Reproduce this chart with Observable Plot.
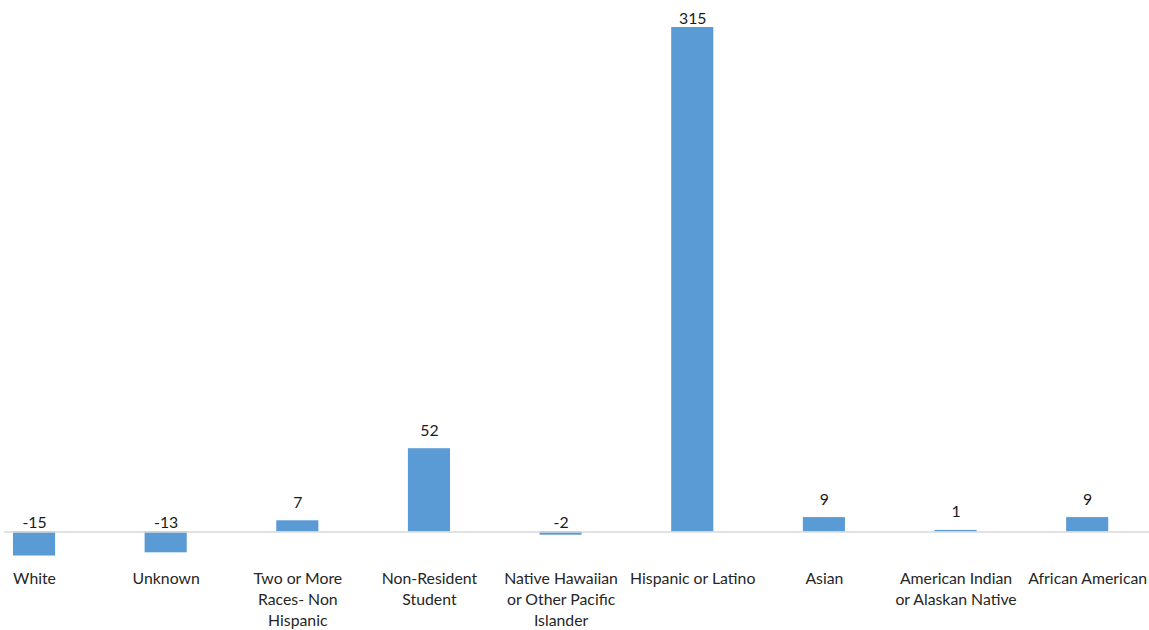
<!DOCTYPE html>
<html>
<head>
<meta charset="utf-8">
<script src="https://cdn.jsdelivr.net/npm/d3@7"></script>
<script src="https://cdn.jsdelivr.net/npm/@observablehq/plot@0.6"></script>
<style>
  html, body { margin: 0; padding: 0; background: #fff; }
  #chart svg { display: block; }
</style>
</head>
<body>
<div id="chart"></div>
<script>
const categories = ["White", "Unknown", "Two or More Races- Non Hispanic", "Non-Resident Student",
  "Native Hawaiian or Other Pacific Islander", "Hispanic or Latino", "Asian",
  "American Indian or Alaskan Native", "African American"];
const values = [-15, -13, 7, 52, -2, 315, 9, 1, 9];
const tickLabels = ["White", "Unknown", "Two or More\nRaces- Non\nHispanic", "Non-Resident\nStudent",
  "Native Hawaiian\nor Other Pacific\nIslander", "Hispanic or Latino", "Asian",
  "American Indian\nor Alaskan Native", "African American"];

const data = categories.map((c, i) => ({category: c, value: values[i]}));
const maxV = d3.max(values);
const labelMap = new Map(categories.map((c, i) => [c, tickLabels[i]]));

const chart = Plot.plot({
  width: 1149,
  height: 630,
  marginTop: 0,
  marginLeft: 4,
  marginRight: 0,
  marginBottom: 98.5,
  style: {fontFamily: "Lato, 'Open Sans', sans-serif", background: "#fff"},
  x: {domain: categories, range: [-31.8, 1153], paddingInner: 0.68, paddingOuter: 0.34, round: false, axis: null},
  y: {domain: [0, 315], range: [531.5, 27], axis: null},
  marks: [
    Plot.barY(data, {x: "category", y: "value", fill: "#5b9bd5"}),
    Plot.ruleY([0], {stroke: "#d9d9d9", strokeWidth: 1.5}),
    Plot.text(data.filter(d => d.value > 0 && d.value < maxV), {
      x: "category", y: "value", text: d => String(d.value),
      lineAnchor: "bottom", dy: -13, fontSize: 15.8, fill: "#1a1a1a"
    }),
    Plot.text(data.filter(d => d.value <= 0 || d.value === maxV), {
      x: "category", y: d => Math.max(d.value, 0), text: d => String(d.value),
      lineAnchor: "bottom", dy: -4, fontSize: 15.8, fill: "#1a1a1a"
    }),
    Plot.axisX({
      anchor: "bottom", tickSize: 0, tickPadding: 37.5, fontSize: 15.8, lineHeight: 1.31,
      tickFormat: c => labelMap.get(c), color: "#262626", label: null
    })
  ]
});
document.getElementById("chart").append(chart);
</script>
</body>
</html>
